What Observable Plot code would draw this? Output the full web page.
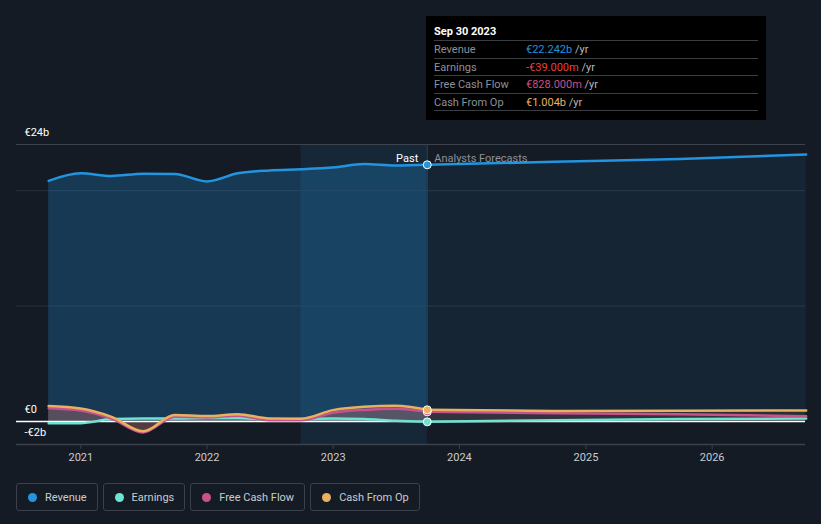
<!DOCTYPE html>
<html>
<head>
<meta charset="utf-8">
<script src="https://cdn.jsdelivr.net/npm/d3@7"></script>
<script src="https://cdn.jsdelivr.net/npm/@observablehq/plot@0.6"></script>
<style>
  html, body { margin: 0; padding: 0; background: #151b24; font-family: Roboto, "Open Sans", sans-serif; }
  #wrap { position: relative; width: 821px; height: 524px; overflow: hidden; }
  #chart svg { display: block; }
  #tip { position: absolute; left: 426px; top: 16px; width: 340px; height: 104px; background: #000; color: #fff; font-size: 11px; box-sizing: border-box; padding: 0 8px; }
  #tip .title { font-weight: bold; height: 24px; line-height: 31px; border-bottom: 1px solid #3a3d42; }
  #tip .row { height: 16.5px; line-height: 17px; border-bottom: 1px solid #3a3d42; display: flex; }
  #tip .lab { width: 92px; color: #8d9198; }
  #tip .unit { color: #b5b8bd; }
  #legend { position: absolute; left: 16px; top: 483px; display: flex; gap: 5px; }
  #legend .item { border: 1px solid #3b414b; border-radius: 3px; box-sizing: border-box; height: 28px; display: flex; align-items: center; padding: 0 10px 0 11px; color: #c9ccd1; font-size: 11px; }
  #legend .dot { width: 9px; height: 9px; border-radius: 50%; margin-right: 8px; }
</style>
</head>
<body>
<div id="wrap">
  <div id="chart"></div>
  <div id="tip"></div>
  <div id="legend"></div>
</div>
<script>
// ---- data (values in € billions) ----
const pastDates = ["2020-09-30","2020-12-31","2021-03-31","2021-06-30","2021-09-30","2021-12-31","2022-03-31","2022-06-30","2022-09-30","2022-12-31","2023-03-31","2023-06-30","2023-09-30"];
const revenuePast  = [20.85, 21.5, 21.27, 21.47, 21.45, 20.8, 21.5, 21.75, 21.85, 22.0, 22.3, 22.18, 22.242];
const earningsPast = [-0.15, -0.15, 0.2, 0.25, 0.25, 0.3, 0.3, 0.15, 0.2, 0.25, 0.2, 0.05, -0.039];
const fcfPast      = [1.15, 0.95, 0.25, -0.95, 0.4, 0.35, 0.5, 0.1, 0.1, 0.75, 1.0, 1.1, 0.828];
const cfoPast      = [1.33, 1.12, 0.4, -0.85, 0.55, 0.46, 0.63, 0.26, 0.24, 0.98, 1.27, 1.35, 1.004];

const forecastDates = ["2023-09-30","2024-09-30","2025-09-30","2026-09-30"];
const revenueFc  = [22.242, 22.5, 22.75, 23.13];
const earningsFc = [-0.039, 0.1, 0.2, 0.25];
const fcfFc      = [0.828, 0.7, 0.62, 0.45];
const cfoFc      = [1.004, 0.9, 0.92, 0.95];

const seriesNames  = ["Revenue", "Earnings", "Free Cash Flow", "Cash From Op"];
const seriesColors = ["#2394df", "#6ee3d2", "#c9528b", "#e9b060"];
const yTicks = [24, 0, -2];
const yTickLabels = ["€24b", "€0", "-€2b"];
const gridValues = [10, 20];
const xDomain = ["2020-06-29", "2026-09-28"];
const highlight = ["2022-09-30", "2023-09-30"];

const tipDate = "Sep 30 2023";
const tipValues = ["€22.242b", "-€39.000m", "€828.000m", "€1.004b"];
const tipColors = ["#2394df", "#e8413b", "#c9528b", "#e9b060"];

// ---- build tables ----
const parse = d3.utcParse("%Y-%m-%d");
const past = pastDates.map((d, i) => ({date: parse(d), revenue: revenuePast[i], earnings: earningsPast[i], fcf: fcfPast[i], cfo: cfoPast[i]}));
const fc = forecastDates.map((d, i) => ({date: parse(d), revenue: revenueFc[i], earnings: earningsFc[i], fcf: fcfFc[i], cfo: cfoFc[i]}));
const keys = ["revenue", "earnings", "fcf", "cfo"];
const last = past[past.length - 1];
const lastPoints = keys.map((k, i) => ({date: last.date, value: last[k], color: seriesColors[i]}));
const curve = "monotone-x";

const marks = [
  Plot.rect([{x1: parse(highlight[0]), x2: parse(highlight[1])}], {x1: "x1", x2: "x2", y1: -2, y2: 24, fill: "#2394df", fillOpacity: 0.11}),
  Plot.ruleY(gridValues, {stroke: "#28323e", strokeWidth: 1}),
  Plot.ruleY([24], {stroke: "#3c434d", strokeWidth: 1}),
  // areas
  Plot.areaY(past, {x: "date", y1: 0, y2: "revenue", fill: seriesColors[0], fillOpacity: 0.25, curve}),
  Plot.areaY(fc, {x: "date", y1: 0, y2: "revenue", fill: seriesColors[0], fillOpacity: 0.09, curve}),
];
[3, 2, 1].forEach(i => {
  marks.push(Plot.areaY(past, {x: "date", y1: 0, y2: keys[i], fill: seriesColors[i], fillOpacity: 0.18, curve}));
  marks.push(Plot.areaY(fc, {x: "date", y1: 0, y2: keys[i], fill: seriesColors[i], fillOpacity: 0.08, curve}));
});
marks.push(Plot.ruleY([0], {stroke: "#ffffff", strokeWidth: 1.5}));
marks.push(Plot.ruleY([-2], {stroke: "#3b414b", strokeWidth: 1.5}));
[1, 2, 3, 0].forEach(i => {
  marks.push(Plot.line(past, {x: "date", y: keys[i], stroke: seriesColors[i], strokeWidth: 2.5, curve}));
  marks.push(Plot.line(fc, {x: "date", y: keys[i], stroke: seriesColors[i], strokeWidth: 2.5, curve}));
});
marks.push(
  Plot.ruleX([last.date], {y1: -2, y2: 24, stroke: "#1f4663", strokeWidth: 1, insetTop: -24}),
  Plot.dot(lastPoints, {x: "date", y: "value", fill: "color", stroke: "#ffffff", strokeWidth: 1, r: 4}),
  Plot.text(["Past"], {x: last.date, frameAnchor: "top", dy: 10, dx: -9, textAnchor: "end", fill: "#ffffff", fontSize: 11}),
  Plot.text(["Analysts Forecasts"], {x: last.date, frameAnchor: "top", dy: 10, dx: 7, textAnchor: "start", fill: "#8d9198", fontSize: 11}),
  Plot.text(yTicks, {y: d => d, text: (d, i) => yTickLabels[i], frameAnchor: "left", dx: 8, dy: -12, textAnchor: "start", fill: "#ffffff", fontSize: 11}),
  Plot.axisX({ticks: d3.utcYear.every(1), tickFormat: d3.utcFormat("%Y"), tickSize: 5, tickPadding: 4, stroke: "#3b414b", color: "#c9ccd1", fontSize: 11, label: null})
);

const chart = Plot.plot({
  width: 821,
  height: 470,
  marginLeft: 16,
  marginRight: 16,
  marginTop: 144,
  marginBottom: 26,
  style: {background: "transparent", color: "#c9ccd1", fontFamily: "Roboto, 'Open Sans', sans-serif", fontSize: "11px"},
  x: {type: "utc", domain: xDomain.map(parse)},
  y: {domain: [-2, 24], axis: null},
  marks
});
document.getElementById("chart").appendChild(chart);

// tooltip
const tip = document.getElementById("tip");
let html = `<div class="title">${tipDate}</div>`;
seriesNames.forEach((n, i) => {
  html += `<div class="row"><span class="lab">${n}</span><span><span style="color:${tipColors[i]}">${tipValues[i]}</span> <span class="unit">/yr</span></span></div>`;
});
tip.innerHTML = html;

// legend
const legend = document.getElementById("legend");
seriesNames.forEach((n, i) => {
  const it = document.createElement("div");
  it.className = "item";
  it.innerHTML = `<span class="dot" style="background:${seriesColors[i]}"></span>${n}`;
  legend.appendChild(it);
});
</script>
</body>
</html>
